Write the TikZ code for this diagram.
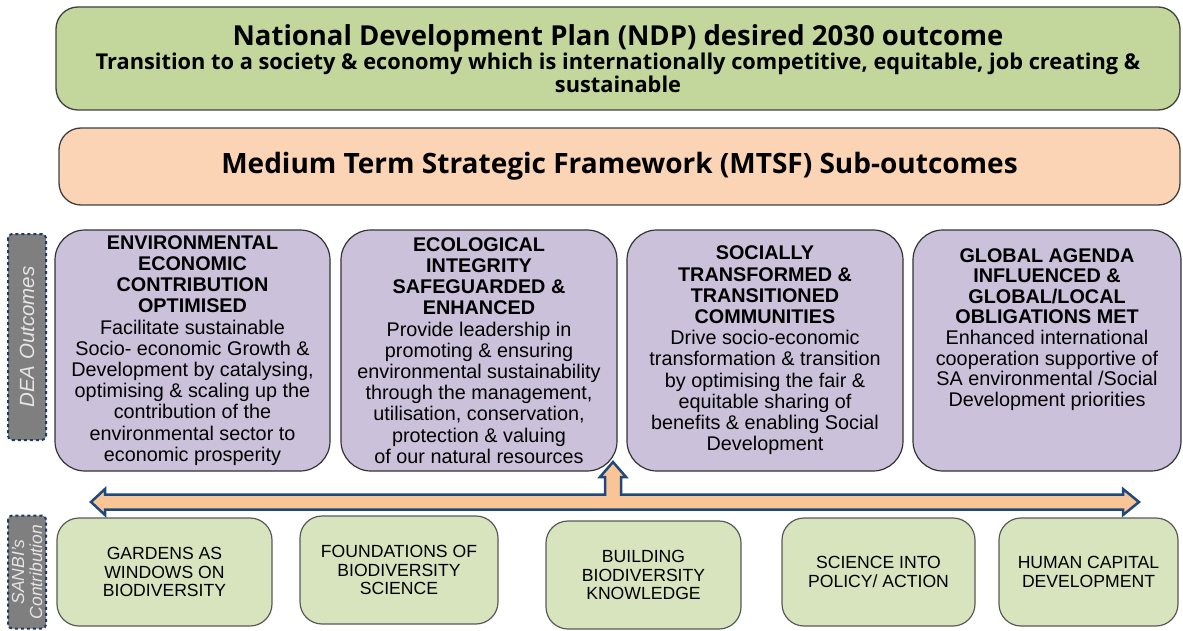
\documentclass[tikz,border=0pt]{standalone}
\usepackage{fontspec}
\setmainfont{Liberation Sans}
\newfontfamily\headfont{Open Sans}
\usetikzlibrary{shapes.geometric}
\definecolor{ndpgreen}{RGB}{195,214,155}
\definecolor{mtsfpeach}{RGB}{250,212,180}
\definecolor{outpurple}{RGB}{204,193,218}
\definecolor{contgreen}{RGB}{215,228,189}
\definecolor{arrowpeach}{RGB}{249,196,150}
\definecolor{arrowblue}{RGB}{31,73,125}
\definecolor{sidegray}{RGB}{127,127,127}
\definecolor{sideblue}{RGB}{31,56,100}

\begin{document}
\begin{tikzpicture}[x=1pt,y=-1pt]

\tikzstyle{topbox}=[rectangle, rounded corners=22, draw=black!75, line width=1.3pt, align=center, font=\headfont\bfseries]
\tikzstyle{outbox}=[rectangle, rounded corners=30, draw=black!80, fill=outpurple, line width=1.2pt, minimum height=241, align=center, font=\fontsize{19.8}{21.2}\selectfont]
\tikzstyle{contbox}=[rectangle, rounded corners=22, draw=black!65, fill=contgreen, line width=1.2pt, minimum height=108, align=center, font=\fontsize{17.6}{18.8}\selectfont]
\tikzstyle{sidebox}=[rectangle, rounded corners=4, draw=sideblue, dashed, line width=2pt, fill=sidegray, text=white!90!black, minimum height=38, rotate=90, align=center, font=\fontsize{20.5}{21}\selectfont\itshape]
\tikzstyle{bigarrow}=[draw=arrowblue, fill=arrowpeach, line width=2.5pt, line join=miter]

\useasboundingbox (0,0) rectangle (1183,631);

\node (A) [topbox, fill=ndpgreen, minimum width=1124, minimum height=103] at (618,58.5) {\fontsize{27.5}{30}\selectfont National Development Plan (NDP) desired 2030 outcome\\
  \fontsize{21.8}{32}\selectfont Transition to a society \& economy which is internationally competitive, equitable, job creating \&\\ \fontsize{21.8}{27}\selectfont sustainable};

\node (B) [topbox, fill=mtsfpeach, minimum width=1121, minimum height=77, font=\headfont\bfseries\fontsize{28}{30}\selectfont] at (619.5,166.5) {Medium Term Strategic Framework (MTSF) Sub-outcomes};

\node (C1) [outbox, minimum width=275] at (192.5,350.5) {\textbf{ENVIRONMENTAL}\\ \textbf{ECONOMIC}\\ \textbf{CONTRIBUTION}\\ \textbf{OPTIMISED}\\
  Facilitate sustainable\\ Socio- economic Growth \&\\ Development by catalysing,\\ optimising \& scaling up the\\ contribution of the\\ environmental sector to\\ economic prosperity};
\node (C2) [outbox, minimum width=276] at (479,350.5) {\textbf{ECOLOGICAL}\\ \textbf{INTEGRITY}\\ \textbf{SAFEGUARDED \&}\\ \textbf{ENHANCED}\\
  Provide leadership in\\ promoting \& ensuring\\ environmental sustainability\\ through the management,\\ utilisation, conservation,\\ protection \& valuing\\ of our natural resources};
\node (C3) [outbox, minimum width=276] at (765,350.5) {\textbf{SOCIALLY}\\ \textbf{TRANSFORMED \&}\\ \textbf{TRANSITIONED}\\ \textbf{COMMUNITIES}\\
  Drive socio-economic\\ transformation \& transition\\ by optimising the fair \&\\ equitable sharing of\\ benefits \& enabling Social\\ Development};
\node (C4) [outbox, minimum width=268, font=\fontsize{19.8}{20.6}\selectfont] at (1047,350.5) {\textbf{GLOBAL AGENDA}\\ \textbf{INFLUENCED \&}\\ \textbf{GLOBAL/LOCAL}\\ \textbf{OBLIGATIONS MET}\\
  Enhanced international\\ cooperation supportive of\\ SA environmental /Social\\ Development priorities\\[26pt]\mbox{}};

\draw [bigarrow] (91,502) -- (105,489) -- (105,494.5) -- (605,494.5) -- (605,477) -- (600,477) -- (613,462) -- (626,477) -- (621,477) -- (621,494.5)
  -- (1123,494.5) -- (1123,489) -- (1139,502) -- (1123,515) -- (1123,509.5) -- (105,509.5) -- (105,515) -- cycle;

\node (D1) [contbox, minimum width=215] at (164.5,572) {GARDENS AS\\ WINDOWS ON\\ BIODIVERSITY};
\node (D2) [contbox, minimum width=198] at (399,570) {FOUNDATIONS OF\\ BIODIVERSITY\\ SCIENCE};
\node (D3) [contbox, minimum width=195] at (643.5,575) {BUILDING\\ BIODIVERSITY\\ KNOWLEDGE};
\node (D4) [contbox, minimum width=193] at (878.5,572) {SCIENCE INTO\\ POLICY/ ACTION};
\node (D5) [contbox, minimum width=179] at (1088.5,572) {HUMAN CAPITAL\\ DEVELOPMENT};

\node (E1) [sidebox, minimum width=206] at (27,337) {DEA Outcomes};
\node (E2) [sidebox, minimum width=113, font=\fontsize{17.5}{18}\selectfont\itshape] at (27,572) {SANBI's\\ Contribution};

\end{tikzpicture}
\end{document}
